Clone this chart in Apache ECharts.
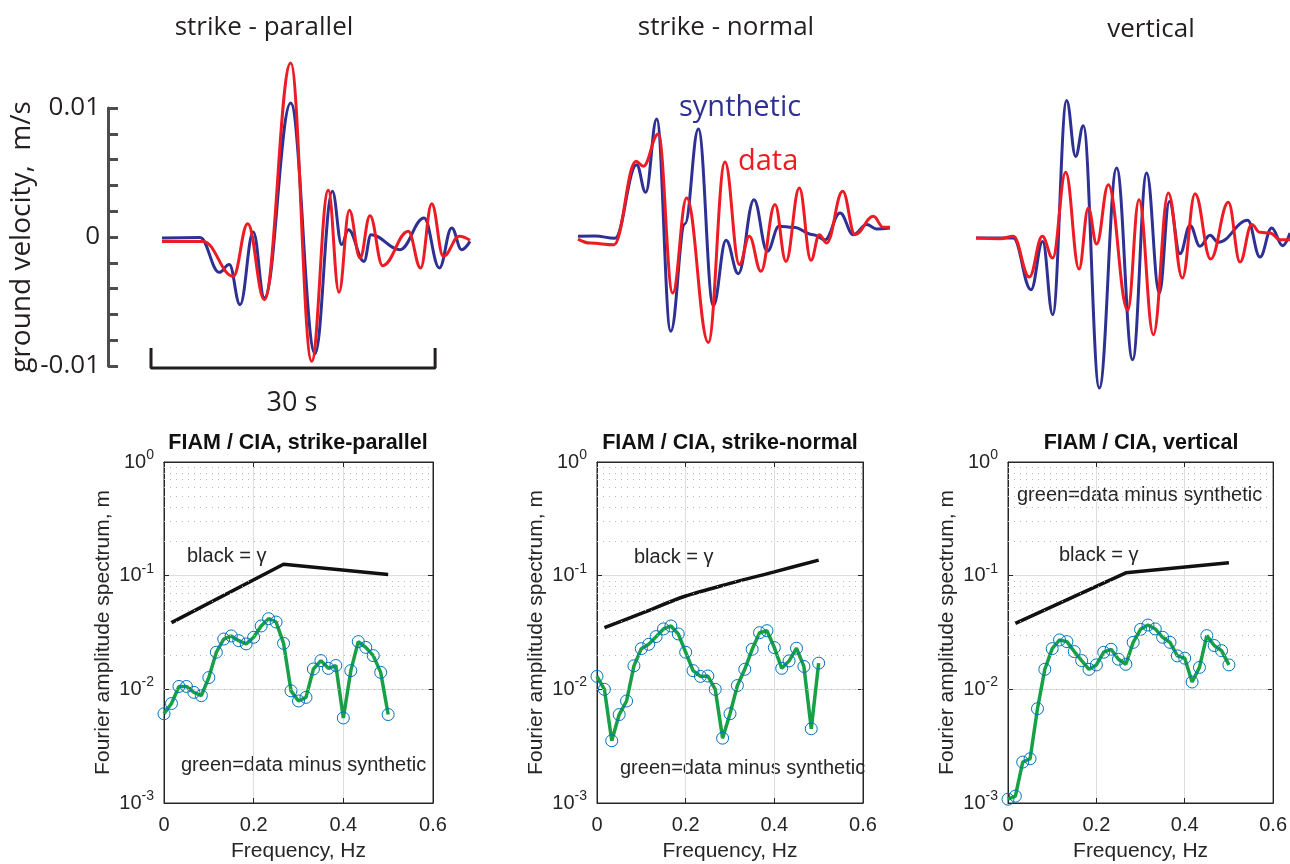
<!DOCTYPE html>
<html>
<head>
<meta charset="utf-8">
<title>FIAM / CIA waveforms and residual spectra</title>
<script src="https://cdn.jsdelivr.net/npm/echarts@6/dist/echarts.min.js"></script>
<style>
html, body { margin: 0; padding: 0; background: #fff; }
#main { width: 1290px; height: 864px; }
</style>
</head>
<body>
<div id="main"></div>
<script>
// ground velocity traces, [time s, velocity m/s] (peaks and troughs)
var synthPar = [[0,-0.00008],[4.01,-0.00003],[6.05,-0.00274],[7.11,-0.00214],[8.24,-0.00525],[9.64,0.00039],[10.81,-0.00473],[13.59,0.01039],[16.16,-0.00904],[17.99,0.00354],[18.97,-0.00059],[19.68,0.00057],[21.33,-0.00189],[22.07,0.00018],[25.13,-0.00098],[27.67,0.00147],[29.29,-0.0024],[30.59,0.0007],[31.64,-0.00098],[32.52,-0.00034]];
var dataPar = [[0,-0.00034],[4.36,-0.00034],[7.53,-0.00305],[9.05,0.00103],[10.81,-0.00486],[13.59,0.01349],[15.8,-0.00964],[17.56,0.00362],[18.69,-0.00429],[19.78,0.00207],[20.91,-0.00163],[21.96,0.00165],[23.3,-0.00222],[26.01,0.00044],[27.31,-0.0024],[28.48,0.00258],[29.71,-0.0015],[31.4,0.00005],[32.52,-0.00026]];
var synthNorm = [[0,0.00005],[1.8,0.00008],[3.9,-0.0001],[6.19,0.00561],[7.15,0.00346],[8.31,0.00915],[9.79,-0.00731],[11.3,0.00103],[12.71,0.00837],[14.29,-0.00532],[15.63,-0.00026],[16.93,-0.00284],[18.58,0.00289],[19.99,-0.00111],[21.22,0.00083],[22.74,0.00075],[24.85,0.00018],[26.08,-0.00021],[27.67,0.00186],[29.07,0.00018],[30.48,0.00096],[31.54,0.00062],[32.95,0.0007]];
var dataNorm = [[0,-0.00016],[1.3,-0.00047],[3.8,-0.0006],[6.12,0.00587],[6.9,0.00548],[8.48,0.00798],[10.0,-0.00434],[11.47,0.00302],[13.76,-0.00817],[15.52,0.00581],[17.04,-0.00214],[18.09,0.00005],[19.32,-0.00266],[20.8,0.00251],[21.96,-0.00189],[23.37,0.0038],[24.6,-0.00181],[25.48,0.00018],[26.26,-0.00047],[27.95,0.00354],[29.25,0.00018],[31.19,0.0016],[32.24,0.00075],[32.95,0.00075]];
var synthVert = [[0,-0.00008],[3.94,-0.00008],[5.81,-0.00408],[7.04,-0.00034],[8.1,-0.00602],[9.57,0.01059],[10.52,0.00625],[11.33,0.00863],[13.02,-0.01171],[14.85,0.00535],[16.54,-0.00951],[18.02,0.00496],[19.36,-0.00434],[20.42,0.00276],[21.54,-0.00129],[22.6,0.0009],[23.65,-0.00072],[24.71,0.00013],[25.59,-0.00041],[28.69,0.00129],[29.99,-0.00155],[31.22,0.0007],[32.38,-0.00067],[33.16,0.00031]];
var dataVert = [[0,-0.00008],[2.53,-0.00013],[3.94,0.00005],[5.63,-0.0031],[7.0,0.00005],[8.1,-0.00163],[9.47,0.00501],[10.88,-0.00248],[11.86,0.00225],[12.74,-0.00054],[13.97,0.00406],[16.02,-0.00568],[17.21,0.00289],[18.73,-0.00757],[20.31,0.00341],[21.79,-0.00318],[23.13,0.00336],[24.78,-0.00171],[26.65,0.00269],[27.88,-0.00194],[29.11,0.00096],[29.99,0.00036],[31.05,0.00031],[32.1,-0.00021],[33.16,-0.00021]];

// velocity ticks (m/s) and 30 s scale bar
var velTickStep = 0.002;
var velLabels = [-0.01, 0, 0.01];
var scaleBarStart = -1.16;
var scaleBarLen = 30;

// Fourier amplitude spectra
var freqHz = [0,0.0167,0.0333,0.05,0.0667,0.0833,0.1,0.1167,0.1333,0.15,0.1667,0.1833,0.2,0.2167,0.2333,0.25,0.2667,0.2833,0.3,0.3167,0.3333,0.35,0.3667,0.3833,0.4,0.4167,0.4333,0.45,0.4667,0.4833,0.5];
var residPar = [0.0061,0.0075,0.0106,0.0106,0.0094,0.0088,0.0127,0.0212,0.0277,0.0295,0.0268,0.0251,0.0287,0.0361,0.0418,0.0391,0.0254,0.0097,0.0079,0.0085,0.0151,0.0179,0.0153,0.0162,0.0056,0.0146,0.0263,0.0234,0.0198,0.0141,0.006];
var residNorm = [0.013,0.01,0.00353,0.006,0.0079,0.0161,0.0228,0.0249,0.0291,0.034,0.0361,0.0307,0.0212,0.0146,0.013,0.0131,0.01,0.00372,0.0061,0.0108,0.015,0.0225,0.0315,0.0328,0.0233,0.0153,0.0178,0.023,0.0159,0.0045,0.017];
var residVert = [0.00108,0.00115,0.00229,0.00245,0.00675,0.015,0.0228,0.0272,0.0263,0.0215,0.0179,0.015,0.0164,0.0212,0.0225,0.0184,0.0166,0.0259,0.0337,0.0368,0.034,0.0287,0.0259,0.0197,0.0188,0.0116,0.0156,0.0297,0.0243,0.0219,0.0164];
var gammaParF = [0.0167,0.2667,0.5];
var gammaPar = [0.0386,0.126,0.1025];
var gammaNormF = [0.0167,0.1,0.2,0.3,0.4,0.5];
var gammaNorm = [0.0349,0.0466,0.0662,0.0855,0.108,0.137];
var gammaVertF = [0.0167,0.2667,0.5];
var gammaVert = [0.0381,0.106,0.13];
var minorY = [0.002,0.003,0.004,0.005,0.006,0.007,0.008,0.009,0.02,0.03,0.04,0.05,0.06,0.07,0.08,0.09,0.2,0.3,0.4,0.5,0.6,0.7,0.8,0.9];

var topTitles = ['strike - parallel', 'strike - normal', 'vertical'];
var botTitles = ['FIAM / CIA, strike-parallel', 'FIAM / CIA, strike-normal', 'FIAM / CIA, vertical'];

var FT = '"Open Sans", "Noto Sans", sans-serif';
var FB = '"Liberation Sans", Arial, Helvetica, sans-serif';
var BLUE = '#2e3192', RED = '#ed1c24', GREEN = '#17a045', CIRC = '#0072bd';

var traceStart = [162, 578, 976];   // pixel where t = 0 sits in each top panel
var tMin = [-1.2, 0, 0];
var botLefts = [164, 597, 1008];
var botWidths = [269, 266, 267];
var pxPerSec = 9.47, tMax = 33;

var grids = [], xAxes = [], yAxes = [], series = [];

// top row: waveforms
for (var i = 0; i < 3; i++) {
  grids.push({ left: traceStart[i] + tMin[i] * pxPerSec, top: 108, width: (tMax - tMin[i]) * pxPerSec, height: 258 });
  xAxes.push({ gridIndex: i, type: 'value', min: tMin[i], max: tMax, show: false });
}
yAxes.push({
  gridIndex: 0, type: 'value', min: -0.01, max: 0.01, interval: velTickStep,
  offset: traceStart[0] + tMin[0] * pxPerSec - 108,
  axisLine: { show: true, onZero: false, lineStyle: { color: '#4d4d4d', width: 3 } },
  axisTick: { show: true, inside: true, length: 10, lineStyle: { color: '#4d4d4d', width: 3 } },
  splitLine: { show: false },
  axisLabel: {
    fontFamily: FT, fontSize: 26, color: '#231f20', margin: 8,
    formatter: function (v) {
      for (var k = 0; k < velLabels.length; k++) {
        if (Math.abs(v - velLabels[k]) < 1e-9) return String(velLabels[k]);
      }
      return '';
    }
  },
  name: 'ground velocity,  m/s', nameLocation: 'middle', nameGap: 68,
  nameTextStyle: { fontFamily: FT, fontSize: 28, color: '#231f20' }
});
yAxes.push({ gridIndex: 1, type: 'value', min: -0.01, max: 0.01, show: false });
yAxes.push({ gridIndex: 2, type: 'value', min: -0.01, max: 0.01, show: false });

var traces = [[synthPar, dataPar], [synthNorm, dataNorm], [synthVert, dataVert]];
traces.forEach(function (pair, i) {
  [BLUE, RED].forEach(function (c, j) {
    series.push({
      type: 'line', xAxisIndex: i, yAxisIndex: i, data: pair[j],
      smooth: 0.4, smoothMonotone: 'x', showSymbol: false, clip: false, silent: true,
      lineStyle: { color: c, width: 3 }
    });
  });
});
// 30 s scale bar
series.push({
  type: 'line', xAxisIndex: 0, yAxisIndex: 0, showSymbol: false, clip: false, silent: true,
  data: [[scaleBarStart, -0.0086], [scaleBarStart, -0.01016], [scaleBarStart + scaleBarLen, -0.01016], [scaleBarStart + scaleBarLen, -0.0086]],
  lineStyle: { color: '#231f20', width: 3 }
});

// bottom row: spectra
var axisCol = '#262626';
var tickOnly = { inside: true, length: 5, lineStyle: { color: axisCol } };
for (var i = 0; i < 3; i++) {
  var g = 3 + i;
  grids.push({ left: botLefts[i], top: 462, width: botWidths[i], height: 341, show: true, borderColor: axisCol, borderWidth: 1 });
  xAxes.push({
    gridIndex: g, type: 'value', min: 0, max: 0.6, interval: 0.2,
    axisLine: { onZero: false, lineStyle: { color: axisCol, width: 1 } },
    axisTick: tickOnly,
    splitLine: { show: true, lineStyle: { color: '#dedede', width: 1 } },
    axisLabel: { fontFamily: FB, fontSize: 20, color: '#262626', margin: 12 },
    name: 'Frequency, Hz', nameLocation: 'middle', nameGap: 38,
    nameTextStyle: { fontFamily: FB, fontSize: 21, color: '#262626' }
  });
  yAxes.push({
    gridIndex: g, type: 'log', logBase: 10, min: 0.001, max: 1,
    axisLine: { onZero: false, lineStyle: { color: axisCol, width: 1 } },
    axisTick: tickOnly,
    splitLine: { show: true, lineStyle: { color: '#dedede', width: 1 } },
    axisLabel: {
      margin: 10, color: '#262626',
      formatter: function (v) {
        var e = Math.round(Math.log(v) / Math.LN10);
        return '{b|10}{s|' + e + '}';
      },
      rich: {
        b: { fontFamily: FB, fontSize: 20, color: '#262626' },
        s: { fontFamily: FB, fontSize: 14, color: '#262626', padding: [0, 0, 14, 0] }
      }
    },
    name: 'Fourier amplitude spectrum, m', nameLocation: 'middle', nameGap: 50,
    nameTextStyle: { fontFamily: FB, fontSize: 21, color: '#262626' }
  });
}
// tick marks on the top and right edges of the spectrum boxes
for (var i = 0; i < 3; i++) {
  var g = 3 + i;
  xAxes.push({ gridIndex: g, type: 'value', position: 'top', min: 0, max: 0.6, interval: 0.2,
    axisLine: { onZero: false, lineStyle: { color: axisCol } }, axisTick: tickOnly,
    axisLabel: { show: false }, splitLine: { show: false } });
  yAxes.push({ gridIndex: g, type: 'log', logBase: 10, position: 'right', min: 0.001, max: 1,
    axisLine: { onZero: false, lineStyle: { color: axisCol } }, axisTick: tickOnly,
    axisLabel: { show: false }, splitLine: { show: false } });
}

var resid = [residPar, residNorm, residVert];
var gam = [[gammaParF, gammaPar], [gammaNormF, gammaNorm], [gammaVertF, gammaVert]];
for (var i = 0; i < 3; i++) {
  var g = 3 + i;
  series.push({
    type: 'line', xAxisIndex: g, yAxisIndex: g, data: [], silent: true, z: 1,
    markLine: {
      silent: true, symbol: ['none', 'none'], label: { show: false },
      lineStyle: { color: '#b8b8b8', type: [1, 5], width: 1 },
      data: minorY.map(function (v) { return { yAxis: v }; })
    }
  });
  series.push({
    type: 'line', xAxisIndex: g, yAxisIndex: g, silent: true,
    data: gam[i][0].map(function (f, k) { return [f, gam[i][1][k]]; }),
    smooth: i === 1 ? 0.3 : false,
    showSymbol: false, lineStyle: { color: '#111', width: 3.5 }
  });
  series.push({
    type: 'line', xAxisIndex: g, yAxisIndex: g, silent: true,
    data: freqHz.map(function (f, k) { return [f, resid[i][k]]; }),
    symbol: 'circle', symbolSize: 12,
    itemStyle: { color: 'rgba(0,0,0,0)', borderColor: CIRC, borderWidth: 1 },
    lineStyle: { color: GREEN, width: 3.5 }
  });
}

function txt(x, y, s, font, fill, align) {
  return { type: 'text', x: x, y: y, silent: true,
    style: { text: s, font: font, fill: fill, align: align || 'left', verticalAlign: 'middle' } };
}
var graphics = [
  txt(264, 28, topTitles[0], '26px ' + FT, '#231f20', 'center'),
  txt(726, 28, topTitles[1], '26px ' + FT, '#231f20', 'center'),
  txt(1151, 30, topTitles[2], '26px ' + FT, '#231f20', 'center'),
  txt(679, 108, 'synthetic', '29px ' + FT, BLUE),
  txt(738, 162, 'data', '29px ' + FT, RED),
  txt(292, 403, '30 s', '27px ' + FT, '#231f20', 'center'),
  txt(298, 443, botTitles[0], 'bold 21.5px ' + FB, '#111', 'center'),
  txt(730, 443, botTitles[1], 'bold 21.5px ' + FB, '#111', 'center'),
  txt(1141, 443, botTitles[2], 'bold 21.5px ' + FB, '#111', 'center'),
  txt(187, 556, 'black = \u03b3', '20px ' + FB, '#262626'),
  txt(181, 765, 'green=data minus synthetic', '20px ' + FB, '#262626'),
  txt(634, 557, 'black = \u03b3', '20px ' + FB, '#262626'),
  txt(620, 768, 'green=data minus synthetic', '20px ' + FB, '#262626'),
  txt(1017, 495, 'green=data minus synthetic', '20px ' + FB, '#262626'),
  txt(1059, 555, 'black = \u03b3', '20px ' + FB, '#262626')
];

var chart = echarts.init(document.getElementById('main'));
chart.setOption({
  animation: false,
  backgroundColor: '#fff',
  grid: grids,
  xAxis: xAxes,
  yAxis: yAxes,
  series: series,
  graphic: graphics
});
</script>
</body>
</html>
